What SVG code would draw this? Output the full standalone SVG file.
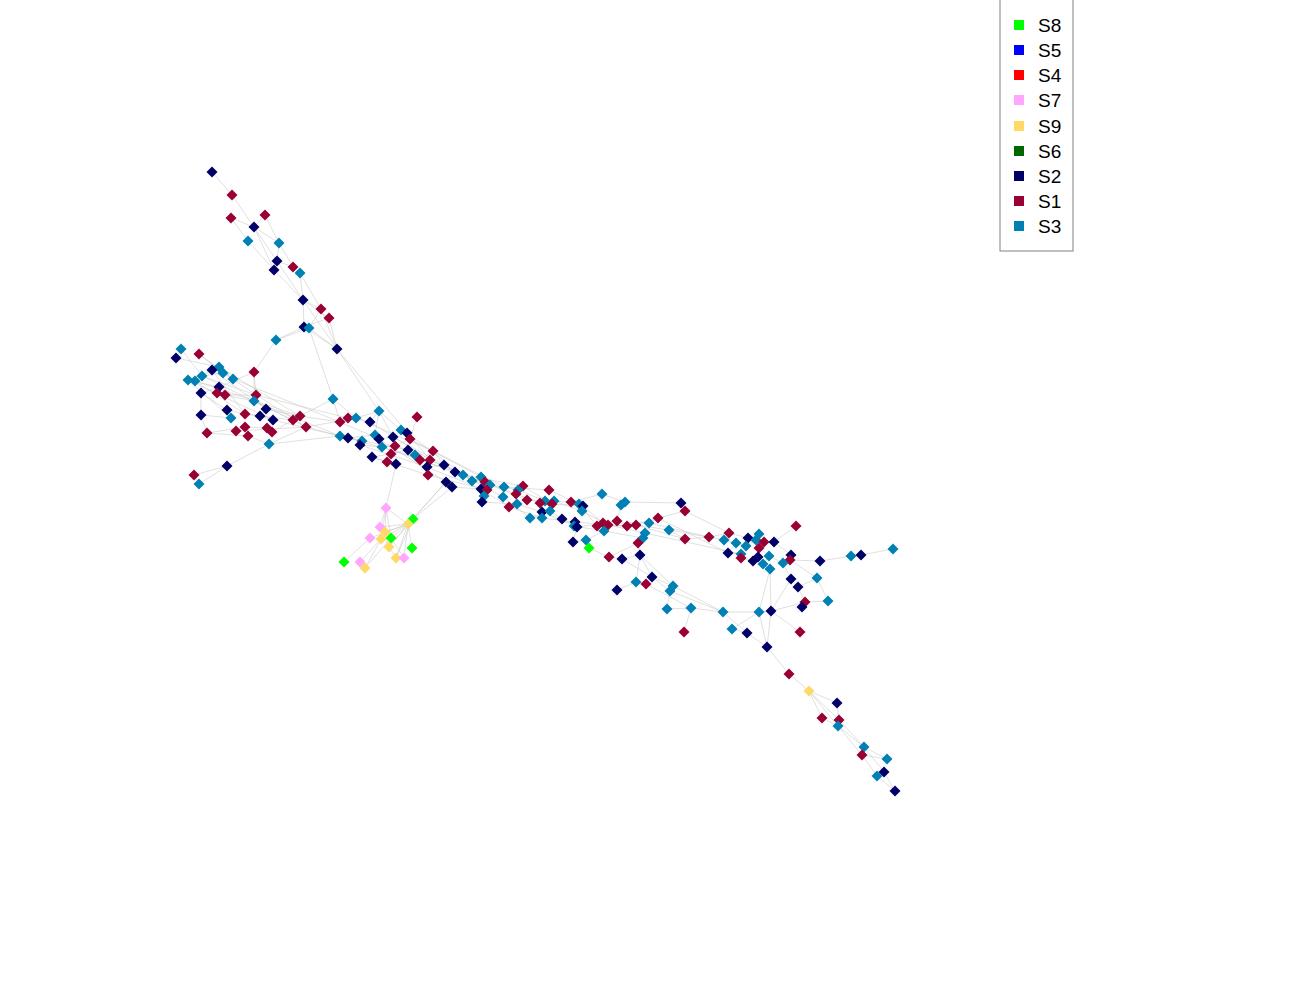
<svg xmlns="http://www.w3.org/2000/svg" xmlns:xlink="http://www.w3.org/1999/xlink" width="1300" height="1000" viewBox="0 0 1300 1000">
<style>
.e{fill:none;stroke:#c4c4c4;stroke-opacity:0.65;stroke-width:0.8}
.s1{fill:#990033}.s2{fill:#000066}.s3{fill:#0080b3}.s4{fill:#ff0000}.s5{fill:#0000ff}.s6{fill:#006600}.s7{fill:#ffa6ff}.s8{fill:#00ff00}.s9{fill:#ffd966}
.lt{font-family:"Liberation Sans",Arial,sans-serif;font-size:19px;fill:#000}
</style>
<defs><path id="dm" d="M0,-5.5L5.5,0L0,5.5L-5.5,0Z"/></defs>
<rect width="1300" height="1000" fill="#fff"/>
<g id="connectors" class="e">
<path d="M212,172L232,195M232,195L254,227M231,218L254,227M265,215L254,227M231,218L248,241M248,241L274,270M274,270L303,300M254,227L279,243M254,227L277,261M254,227L274,270M265,215L279,243M279,243L277,261M279,243L293,267M277,261L293,267M277,261L303,300M293,267L300,273M300,273L303,300M300,273L321,309M303,300L321,309M303,300L304,327M303,300L329,318M303,300L337,349M321,309L309,328M329,318L304,327M321,309L337,349M329,318L337,349M304,327L337,349M309,328L337,349M276,340L304,327M276,340L309,328M276,340L254,372M337,349L379,411M337,349L430,460M333,399L309,328"/>
<path d="M181,349L176,358M176,358L219,367M199,354L223,373M199,354L233,379M181,349L202,376M212,370L188,380M212,370L195,381M219,367L233,379M223,373L202,376M219,387L201,393M219,387L188,380M219,387L254,372M254,372L254,401M254,372L256,395M217,393L225,395M225,395L256,395M225,395L254,401M201,393L227,410M201,393L201,415M201,415L207,433M201,415L231,418M227,410L245,414M227,410L231,418M245,414L260,416M266,409L260,416M266,409L300,416M260,416L273,420M245,427L236,431M245,427L267,428M267,428L272,432M272,432L293,420M293,420L300,416M300,416L340,422M306,427L340,436M248,436L269,444M269,444L306,427M269,444L340,436M227,466L269,444M227,466L194,475M227,466L199,484M194,475L199,484M195,381L300,416M202,376L293,420M188,380L273,420M212,370L266,409M223,373L306,427M233,379L340,422M219,367L300,416M254,401L340,436M256,395L348,418M195,381L245,414M188,380L231,418M202,376L256,395M212,370L245,414M254,401L306,427M306,427L356,418M273,420L348,438M236,431L306,427M207,433L245,427M207,433L248,436M245,414L293,420M300,416L333,399M333,399L340,422M333,399L356,418"/>
<path d="M340,422L348,418M348,418L356,418M356,418L370,422M340,436L348,438M348,438L362,441M348,438L375,435M340,422L379,439M356,418L379,411M370,422L379,411M379,411L401,430M379,411L393,437M379,411L375,435M362,441L360,445M360,445L382,447M375,435L379,439M379,439L393,437M393,437L401,430M401,430L407,433M407,433L410,439M410,439L395,446M395,446L408,450M408,450L391,454M391,454L387,462M387,462L396,464M372,457L387,462M372,457L391,454M382,447L395,446M417,417L410,439M408,450L415,455M415,455L420,460M420,460L433,451M433,451L444,465M430,460L427,467M427,467L428,475M427,467L444,465M444,465L455,472M446,482L452,487M452,487L481,489M463,475L472,481M472,481L481,477M481,477L485,482M485,482L490,485M487,490L484,496M484,496L482,502M396,464L386,508M446,482L413,519M452,487L413,519M455,472L408,524"/>
<path d="M360,445L427,467M348,438L444,465M340,436L408,450M356,418L433,451M370,422L430,460M382,447L455,472M372,457L428,475M379,439L446,482M393,437L463,475M407,433L472,481M410,439L481,477M420,460L485,482M430,460L490,485M433,451L504,487M427,467L481,489M444,465L503,497M428,475L487,490M455,472L516,494M463,475L523,486M472,481L518,490M481,489L509,507M482,502L517,504M490,485L527,500M503,497L530,518M504,487L549,490M516,494L540,503M518,490L545,501M523,486L552,504M527,500L554,501M517,504L542,512M509,507L542,518M530,518L550,511M545,501L571,502M549,490L579,504M552,504L583,506M554,501L582,511M550,511L562,519M542,518L575,522M542,512L574,526M562,519L577,527M571,502L602,494M579,504L597,526M583,506L603,523M582,511L608,525M574,526L604,531M577,527L617,521M575,522L627,526M597,526L636,525M603,523L649,523M608,525L645,533M604,531L643,538M617,521L621,505M621,505L625,502M602,494L625,502M625,502L681,503M627,526L658,518M636,525L669,530M649,523L658,518M658,518L685,511M681,503L685,511M669,530L685,539M685,539L709,537M709,537L729,533M729,533L748,538M724,540L736,543M636,525L685,539M649,523L709,537M669,530L724,540M685,511L729,533M658,518L728,553M645,533L741,554M643,538L638,543M638,543L640,555M640,555L622,559M622,559L609,557M609,557L589,548M589,548L586,540M586,540L573,542M573,542L577,527M586,540L604,531M609,557L638,543"/>
<path d="M736,543L746,546M746,546L756,540M756,540L759,534M759,534L748,538M756,540L764,542M764,542L774,542M764,542L759,548M759,548L758,557M758,557L753,561M753,561L741,558M741,558L741,554M741,554L728,553M728,553L736,543M748,538L769,556M769,556L763,564M763,564L771,569M769,556L783,563M783,563L791,555M791,555L790,560M790,560L820,561M774,542L791,555M774,542L796,526M820,561L851,556M851,556L861,555M861,555L893,549M763,564L770,569M770,569L759,612M770,569L771,611M783,563L791,579M791,579L798,587M798,587L817,578M817,578L828,601M817,578L790,560M798,587L805,602M805,602L802,607M805,602L828,601M791,579L771,611M771,611L800,632M771,611L806,602M759,612L771,611M759,612L767,647M747,633L767,647M732,629L747,633M732,629L759,612M723,612L759,612M723,612L747,633M691,608L723,612M670,591L723,612M673,586L723,612M667,609L691,608M691,608L684,632M667,609L670,591M673,586L652,577M652,577L646,584M646,584L636,582M636,582L617,590M636,582L640,555M652,577L640,555M652,577L670,591M646,584L691,608M640,555L673,586M622,559L652,577M771,611L767,647"/>
<path d="M767,647L789,674M789,674L809,691M809,691L837,703M809,691L822,718M809,691L839,720M809,691L838,726M837,703L839,720M822,718L838,726M839,720L838,726M838,726L864,747M838,726L862,755M864,747L887,759M862,755L887,759M864,747L884,772M862,755L877,776M884,772L877,776M884,772L895,791M877,776L895,791M839,720L864,747"/>
<path d="M386,508L380,527M386,508L385,532M386,508L381,539M386,508L391,538M386,508L408,524M413,519L408,524M408,524L380,527M408,524L385,532M408,524L381,539M408,524L391,538M408,524L389,547M408,524L396,558M408,524L404,558M408,524L412,548M408,524L370,538M413,519L389,547M413,519L396,558M391,538L404,558M391,538L365,568M370,538L344,562M381,539L360,562M385,532L365,568M380,527L389,547M391,538L389,547M389,547L396,558M360,562L365,568"/>
</g>
<g id="nodes">
<g id="n1" class="s2"><use href="#dm" x="212" y="172"/></g>
<g id="n2" class="s1"><use href="#dm" x="232" y="195"/></g>
<g id="n3" class="s1"><use href="#dm" x="231" y="218"/></g>
<g id="n4" class="s1"><use href="#dm" x="265" y="215"/></g>
<g id="n5" class="s2"><use href="#dm" x="254" y="227"/></g>
<g id="n6" class="s3"><use href="#dm" x="248" y="241"/></g>
<g id="n7" class="s3"><use href="#dm" x="279" y="243"/></g>
<g id="n8" class="s2"><use href="#dm" x="277" y="261"/></g>
<g id="n9" class="s1"><use href="#dm" x="293" y="267"/></g>
<g id="n10" class="s2"><use href="#dm" x="274" y="270"/></g>
<g id="n11" class="s3"><use href="#dm" x="300" y="273"/></g>
<g id="n12" class="s2"><use href="#dm" x="303" y="300"/></g>
<g id="n13" class="s1"><use href="#dm" x="321" y="309"/></g>
<g id="n14" class="s1"><use href="#dm" x="329" y="318"/></g>
<g id="n15" class="s2"><use href="#dm" x="304" y="327"/></g>
<g id="n16" class="s3"><use href="#dm" x="309" y="328"/></g>
<g id="n17" class="s3"><use href="#dm" x="276" y="340"/></g>
<g id="n18" class="s2"><use href="#dm" x="337" y="349"/></g>
<g id="n19" class="s3"><use href="#dm" x="181" y="349"/></g>
<g id="n20" class="s1"><use href="#dm" x="199" y="354"/></g>
<g id="n21" class="s2"><use href="#dm" x="176" y="358"/></g>
<g id="n22" class="s3"><use href="#dm" x="219" y="367"/></g>
<g id="n23" class="s2"><use href="#dm" x="212" y="370"/></g>
<g id="n24" class="s3"><use href="#dm" x="223" y="373"/></g>
<g id="n25" class="s1"><use href="#dm" x="254" y="372"/></g>
<g id="n26" class="s3"><use href="#dm" x="202" y="376"/></g>
<g id="n27" class="s3"><use href="#dm" x="188" y="380"/></g>
<g id="n28" class="s3"><use href="#dm" x="195" y="381"/></g>
<g id="n29" class="s3"><use href="#dm" x="233" y="379"/></g>
<g id="n30" class="s2"><use href="#dm" x="219" y="387"/></g>
<g id="n31" class="s2"><use href="#dm" x="201" y="393"/></g>
<g id="n32" class="s1"><use href="#dm" x="217" y="393"/></g>
<g id="n33" class="s1"><use href="#dm" x="225" y="395"/></g>
<g id="n34" class="s1"><use href="#dm" x="256" y="395"/></g>
<g id="n35" class="s3"><use href="#dm" x="254" y="401"/></g>
<g id="n36" class="s3"><use href="#dm" x="333" y="399"/></g>
<g id="n37" class="s2"><use href="#dm" x="227" y="410"/></g>
<g id="n38" class="s2"><use href="#dm" x="266" y="409"/></g>
<g id="n39" class="s1"><use href="#dm" x="245" y="414"/></g>
<g id="n40" class="s2"><use href="#dm" x="260" y="416"/></g>
<g id="n41" class="s2"><use href="#dm" x="201" y="415"/></g>
<g id="n42" class="s3"><use href="#dm" x="231" y="418"/></g>
<g id="n43" class="s2"><use href="#dm" x="273" y="420"/></g>
<g id="n44" class="s1"><use href="#dm" x="300" y="416"/></g>
<g id="n45" class="s1"><use href="#dm" x="293" y="420"/></g>
<g id="n46" class="s1"><use href="#dm" x="340" y="422"/></g>
<g id="n47" class="s1"><use href="#dm" x="348" y="418"/></g>
<g id="n48" class="s3"><use href="#dm" x="356" y="418"/></g>
<g id="n49" class="s1"><use href="#dm" x="245" y="427"/></g>
<g id="n50" class="s1"><use href="#dm" x="236" y="431"/></g>
<g id="n51" class="s1"><use href="#dm" x="267" y="428"/></g>
<g id="n52" class="s1"><use href="#dm" x="272" y="432"/></g>
<g id="n53" class="s1"><use href="#dm" x="306" y="427"/></g>
<g id="n54" class="s1"><use href="#dm" x="207" y="433"/></g>
<g id="n55" class="s1"><use href="#dm" x="248" y="436"/></g>
<g id="n56" class="s3"><use href="#dm" x="340" y="436"/></g>
<g id="n57" class="s2"><use href="#dm" x="348" y="438"/></g>
<g id="n58" class="s3"><use href="#dm" x="269" y="444"/></g>
<g id="n59" class="s2"><use href="#dm" x="227" y="466"/></g>
<g id="n60" class="s1"><use href="#dm" x="194" y="475"/></g>
<g id="n61" class="s3"><use href="#dm" x="199" y="484"/></g>
<g id="n62" class="s3"><use href="#dm" x="379" y="411"/></g>
<g id="n63" class="s1"><use href="#dm" x="417" y="417"/></g>
<g id="n64" class="s2"><use href="#dm" x="370" y="422"/></g>
<g id="n65" class="s3"><use href="#dm" x="362" y="441"/></g>
<g id="n66" class="s2"><use href="#dm" x="360" y="445"/></g>
<g id="n67" class="s3"><use href="#dm" x="375" y="435"/></g>
<g id="n68" class="s2"><use href="#dm" x="379" y="439"/></g>
<g id="n69" class="s3"><use href="#dm" x="382" y="447"/></g>
<g id="n70" class="s3"><use href="#dm" x="401" y="430"/></g>
<g id="n71" class="s2"><use href="#dm" x="407" y="433"/></g>
<g id="n72" class="s1"><use href="#dm" x="410" y="439"/></g>
<g id="n73" class="s2"><use href="#dm" x="393" y="437"/></g>
<g id="n74" class="s1"><use href="#dm" x="395" y="446"/></g>
<g id="n75" class="s2"><use href="#dm" x="408" y="450"/></g>
<g id="n76" class="s1"><use href="#dm" x="391" y="454"/></g>
<g id="n77" class="s2"><use href="#dm" x="372" y="457"/></g>
<g id="n78" class="s1"><use href="#dm" x="387" y="462"/></g>
<g id="n79" class="s2"><use href="#dm" x="396" y="464"/></g>
<g id="n80" class="s3"><use href="#dm" x="415" y="455"/></g>
<g id="n81" class="s1"><use href="#dm" x="420" y="460"/></g>
<g id="n82" class="s1"><use href="#dm" x="433" y="451"/></g>
<g id="n83" class="s1"><use href="#dm" x="430" y="460"/></g>
<g id="n84" class="s2"><use href="#dm" x="427" y="467"/></g>
<g id="n85" class="s1"><use href="#dm" x="428" y="475"/></g>
<g id="n86" class="s2"><use href="#dm" x="444" y="465"/></g>
<g id="n87" class="s2"><use href="#dm" x="455" y="472"/></g>
<g id="n88" class="s3"><use href="#dm" x="463" y="475"/></g>
<g id="n89" class="s3"><use href="#dm" x="472" y="481"/></g>
<g id="n90" class="s3"><use href="#dm" x="481" y="477"/></g>
<g id="n91" class="s1"><use href="#dm" x="485" y="482"/></g>
<g id="n92" class="s2"><use href="#dm" x="446" y="482"/></g>
<g id="n93" class="s2"><use href="#dm" x="452" y="487"/></g>
<g id="n94" class="s3"><use href="#dm" x="490" y="485"/></g>
<g id="n95" class="s2"><use href="#dm" x="481" y="489"/></g>
<g id="n96" class="s1"><use href="#dm" x="487" y="490"/></g>
<g id="n97" class="s3"><use href="#dm" x="484" y="496"/></g>
<g id="n98" class="s2"><use href="#dm" x="482" y="502"/></g>
<g id="n99" class="s3"><use href="#dm" x="504" y="487"/></g>
<g id="n100" class="s3"><use href="#dm" x="503" y="497"/></g>
<g id="n101" class="s1"><use href="#dm" x="523" y="486"/></g>
<g id="n102" class="s3"><use href="#dm" x="518" y="490"/></g>
<g id="n103" class="s1"><use href="#dm" x="516" y="494"/></g>
<g id="n104" class="s1"><use href="#dm" x="527" y="500"/></g>
<g id="n105" class="s3"><use href="#dm" x="517" y="504"/></g>
<g id="n106" class="s1"><use href="#dm" x="509" y="507"/></g>
<g id="n107" class="s1"><use href="#dm" x="549" y="490"/></g>
<g id="n108" class="s3"><use href="#dm" x="545" y="501"/></g>
<g id="n109" class="s1"><use href="#dm" x="540" y="503"/></g>
<g id="n110" class="s3"><use href="#dm" x="554" y="501"/></g>
<g id="n111" class="s1"><use href="#dm" x="552" y="504"/></g>
<g id="n112" class="s2"><use href="#dm" x="542" y="512"/></g>
<g id="n113" class="s3"><use href="#dm" x="550" y="511"/></g>
<g id="n114" class="s3"><use href="#dm" x="530" y="518"/></g>
<g id="n115" class="s3"><use href="#dm" x="542" y="518"/></g>
<g id="n116" class="s2"><use href="#dm" x="562" y="519"/></g>
<g id="n117" class="s1"><use href="#dm" x="571" y="502"/></g>
<g id="n118" class="s3"><use href="#dm" x="579" y="504"/></g>
<g id="n119" class="s2"><use href="#dm" x="583" y="506"/></g>
<g id="n120" class="s3"><use href="#dm" x="582" y="511"/></g>
<g id="n121" class="s2"><use href="#dm" x="575" y="522"/></g>
<g id="n122" class="s3"><use href="#dm" x="574" y="526"/></g>
<g id="n123" class="s2"><use href="#dm" x="577" y="527"/></g>
<g id="n124" class="s3"><use href="#dm" x="602" y="494"/></g>
<g id="n125" class="s3"><use href="#dm" x="621" y="505"/></g>
<g id="n126" class="s3"><use href="#dm" x="625" y="502"/></g>
<g id="n127" class="s1"><use href="#dm" x="597" y="526"/></g>
<g id="n128" class="s1"><use href="#dm" x="603" y="523"/></g>
<g id="n129" class="s1"><use href="#dm" x="608" y="525"/></g>
<g id="n130" class="s3"><use href="#dm" x="604" y="531"/></g>
<g id="n131" class="s1"><use href="#dm" x="617" y="521"/></g>
<g id="n132" class="s1"><use href="#dm" x="627" y="526"/></g>
<g id="n133" class="s1"><use href="#dm" x="636" y="525"/></g>
<g id="n134" class="s3"><use href="#dm" x="649" y="523"/></g>
<g id="n135" class="s1"><use href="#dm" x="658" y="518"/></g>
<g id="n136" class="s3"><use href="#dm" x="669" y="530"/></g>
<g id="n137" class="s3"><use href="#dm" x="645" y="533"/></g>
<g id="n138" class="s3"><use href="#dm" x="643" y="538"/></g>
<g id="n139" class="s1"><use href="#dm" x="638" y="543"/></g>
<g id="n140" class="s2"><use href="#dm" x="573" y="542"/></g>
<g id="n141" class="s3"><use href="#dm" x="586" y="540"/></g>
<g id="n142" class="s8"><use href="#dm" x="589" y="548"/></g>
<g id="n143" class="s1"><use href="#dm" x="609" y="557"/></g>
<g id="n144" class="s2"><use href="#dm" x="622" y="559"/></g>
<g id="n145" class="s2"><use href="#dm" x="640" y="555"/></g>
<g id="n146" class="s2"><use href="#dm" x="681" y="503"/></g>
<g id="n147" class="s1"><use href="#dm" x="685" y="511"/></g>
<g id="n148" class="s1"><use href="#dm" x="685" y="539"/></g>
<g id="n149" class="s1"><use href="#dm" x="709" y="537"/></g>
<g id="n150" class="s1"><use href="#dm" x="729" y="533"/></g>
<g id="n151" class="s3"><use href="#dm" x="724" y="540"/></g>
<g id="n152" class="s2"><use href="#dm" x="748" y="538"/></g>
<g id="n153" class="s3"><use href="#dm" x="736" y="543"/></g>
<g id="n154" class="s3"><use href="#dm" x="746" y="546"/></g>
<g id="n155" class="s3"><use href="#dm" x="759" y="534"/></g>
<g id="n156" class="s3"><use href="#dm" x="756" y="540"/></g>
<g id="n157" class="s1"><use href="#dm" x="764" y="542"/></g>
<g id="n158" class="s2"><use href="#dm" x="774" y="542"/></g>
<g id="n159" class="s1"><use href="#dm" x="759" y="548"/></g>
<g id="n160" class="s2"><use href="#dm" x="728" y="553"/></g>
<g id="n161" class="s3"><use href="#dm" x="741" y="554"/></g>
<g id="n162" class="s1"><use href="#dm" x="741" y="558"/></g>
<g id="n163" class="s2"><use href="#dm" x="758" y="557"/></g>
<g id="n164" class="s2"><use href="#dm" x="753" y="561"/></g>
<g id="n165" class="s3"><use href="#dm" x="769" y="556"/></g>
<g id="n166" class="s3"><use href="#dm" x="763" y="564"/></g>
<g id="n167" class="s3"><use href="#dm" x="770" y="569"/></g>
<g id="n168" class="s2"><use href="#dm" x="791" y="555"/></g>
<g id="n169" class="s1"><use href="#dm" x="790" y="560"/></g>
<g id="n170" class="s3"><use href="#dm" x="783" y="563"/></g>
<g id="n171" class="s1"><use href="#dm" x="796" y="526"/></g>
<g id="n172" class="s2"><use href="#dm" x="820" y="561"/></g>
<g id="n173" class="s3"><use href="#dm" x="851" y="556"/></g>
<g id="n174" class="s2"><use href="#dm" x="861" y="555"/></g>
<g id="n175" class="s3"><use href="#dm" x="893" y="549"/></g>
<g id="n176" class="s2"><use href="#dm" x="791" y="579"/></g>
<g id="n177" class="s2"><use href="#dm" x="798" y="587"/></g>
<g id="n178" class="s3"><use href="#dm" x="817" y="578"/></g>
<g id="n179" class="s1"><use href="#dm" x="805" y="602"/></g>
<g id="n180" class="s2"><use href="#dm" x="802" y="607"/></g>
<g id="n181" class="s3"><use href="#dm" x="828" y="601"/></g>
<g id="n182" class="s2"><use href="#dm" x="652" y="577"/></g>
<g id="n183" class="s1"><use href="#dm" x="646" y="584"/></g>
<g id="n184" class="s3"><use href="#dm" x="636" y="582"/></g>
<g id="n185" class="s2"><use href="#dm" x="617" y="590"/></g>
<g id="n186" class="s3"><use href="#dm" x="673" y="586"/></g>
<g id="n187" class="s3"><use href="#dm" x="670" y="591"/></g>
<g id="n188" class="s3"><use href="#dm" x="667" y="609"/></g>
<g id="n189" class="s3"><use href="#dm" x="691" y="608"/></g>
<g id="n190" class="s1"><use href="#dm" x="684" y="632"/></g>
<g id="n191" class="s3"><use href="#dm" x="723" y="612"/></g>
<g id="n192" class="s3"><use href="#dm" x="732" y="629"/></g>
<g id="n193" class="s2"><use href="#dm" x="747" y="633"/></g>
<g id="n194" class="s3"><use href="#dm" x="759" y="612"/></g>
<g id="n195" class="s2"><use href="#dm" x="771" y="611"/></g>
<g id="n196" class="s1"><use href="#dm" x="800" y="632"/></g>
<g id="n197" class="s2"><use href="#dm" x="767" y="647"/></g>
<g id="n198" class="s1"><use href="#dm" x="789" y="674"/></g>
<g id="n199" class="s9"><use href="#dm" x="809" y="691"/></g>
<g id="n200" class="s2"><use href="#dm" x="837" y="703"/></g>
<g id="n201" class="s1"><use href="#dm" x="822" y="718"/></g>
<g id="n202" class="s1"><use href="#dm" x="839" y="720"/></g>
<g id="n203" class="s3"><use href="#dm" x="838" y="726"/></g>
<g id="n204" class="s3"><use href="#dm" x="864" y="747"/></g>
<g id="n205" class="s1"><use href="#dm" x="862" y="755"/></g>
<g id="n206" class="s3"><use href="#dm" x="887" y="759"/></g>
<g id="n207" class="s2"><use href="#dm" x="884" y="772"/></g>
<g id="n208" class="s3"><use href="#dm" x="877" y="776"/></g>
<g id="n209" class="s2"><use href="#dm" x="895" y="791"/></g>
<g id="n210" class="s7"><use href="#dm" x="386" y="508"/></g>
<g id="n211" class="s8"><use href="#dm" x="413" y="519"/></g>
<g id="n212" class="s9"><use href="#dm" x="408" y="524"/></g>
<g id="n213" class="s7"><use href="#dm" x="380" y="527"/></g>
<g id="n214" class="s9"><use href="#dm" x="385" y="532"/></g>
<g id="n215" class="s7"><use href="#dm" x="370" y="538"/></g>
<g id="n216" class="s9"><use href="#dm" x="381" y="539"/></g>
<g id="n217" class="s8"><use href="#dm" x="391" y="538"/></g>
<g id="n218" class="s9"><use href="#dm" x="389" y="547"/></g>
<g id="n219" class="s8"><use href="#dm" x="412" y="548"/></g>
<g id="n220" class="s9"><use href="#dm" x="396" y="558"/></g>
<g id="n221" class="s7"><use href="#dm" x="404" y="558"/></g>
<g id="n222" class="s8"><use href="#dm" x="344" y="562"/></g>
<g id="n223" class="s7"><use href="#dm" x="360" y="562"/></g>
<g id="n224" class="s9"><use href="#dm" x="365" y="568"/></g>
</g>
<g id="legend">
<rect x="1000" y="-1" width="73" height="252" fill="#fff" stroke="#808080" stroke-width="1"/>
<rect class="s8" x="1014" y="20" width="10" height="10"/><text class="lt" x="1038" y="32">S8</text>
<rect class="s5" x="1014" y="45" width="10" height="10"/><text class="lt" x="1038" y="57">S5</text>
<rect class="s4" x="1014" y="70" width="10" height="10"/><text class="lt" x="1038" y="82">S4</text>
<rect class="s7" x="1014" y="95" width="10" height="10"/><text class="lt" x="1038" y="107">S7</text>
<rect class="s9" x="1014" y="121" width="10" height="10"/><text class="lt" x="1038" y="133">S9</text>
<rect class="s6" x="1014" y="146" width="10" height="10"/><text class="lt" x="1038" y="158">S6</text>
<rect class="s2" x="1014" y="171" width="10" height="10"/><text class="lt" x="1038" y="183">S2</text>
<rect class="s1" x="1014" y="196" width="10" height="10"/><text class="lt" x="1038" y="208">S1</text>
<rect class="s3" x="1014" y="221" width="10" height="10"/><text class="lt" x="1038" y="233">S3</text>
</g>
</svg>
